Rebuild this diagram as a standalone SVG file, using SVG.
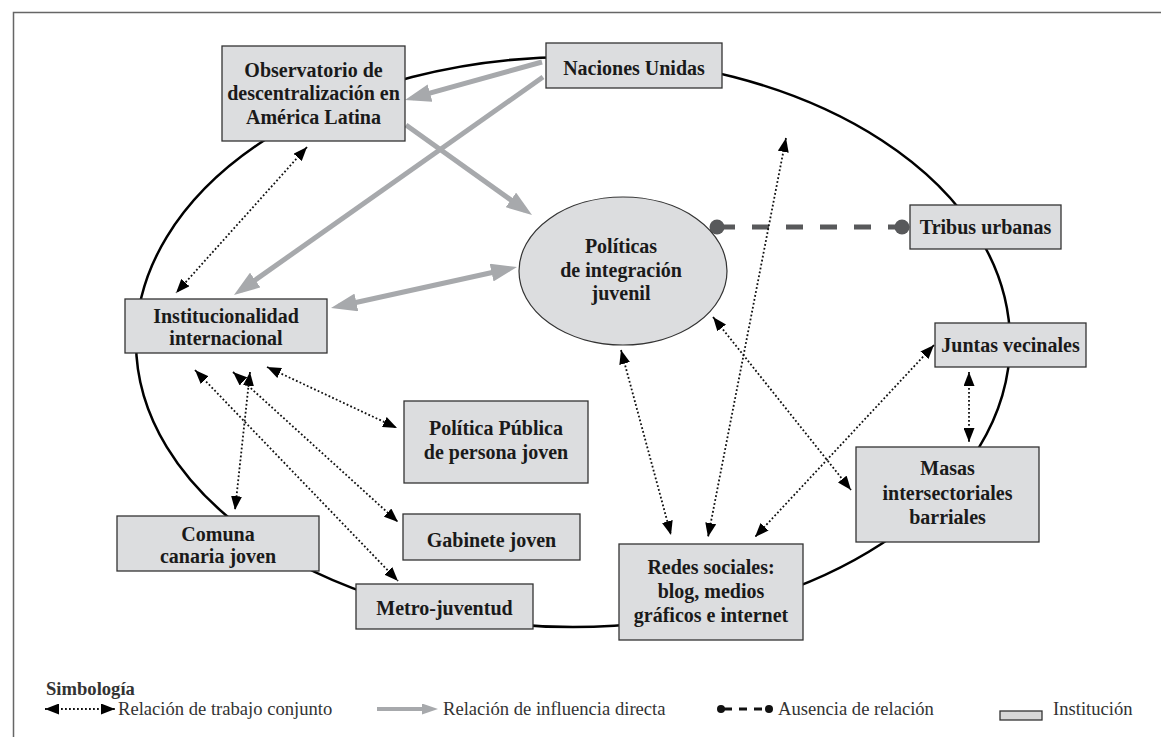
<svg xmlns="http://www.w3.org/2000/svg" width="1161" height="737" viewBox="0 0 1161 737">
<style>
.box{fill:#dcdddf;stroke:#333;stroke-width:1.3}
.lbl{font-family:'Liberation Serif','DejaVu Serif','Times New Roman',serif;font-weight:bold;font-size:20px;fill:#1a1a1a;text-anchor:middle}
.leg{font-family:'Liberation Serif','DejaVu Serif','Times New Roman',serif;font-size:18.6px;fill:#333}
.infl{stroke:#a7a9ac;stroke-width:5;fill:none}
.joint{stroke:#111;stroke-width:1.8;stroke-dasharray:1.8 2.2;fill:none}
</style>
<defs>
<marker id="ga" markerUnits="userSpaceOnUse" viewBox="0 0 26 18" markerWidth="26" markerHeight="18" refX="18" refY="9" orient="auto-start-reverse"><path d="M0,0 L26,9 L0,18 z" fill="#a7a9ac"/></marker>
<marker id="gs" markerUnits="userSpaceOnUse" viewBox="0 0 16 11" markerWidth="16" markerHeight="11" refX="10" refY="5.5" orient="auto"><path d="M0,0 L16,5.5 L0,11 z" fill="#a7a9ac"/></marker>
<marker id="ba" markerUnits="userSpaceOnUse" viewBox="0 0 14 11" markerWidth="14" markerHeight="11" refX="14" refY="5.5" orient="auto-start-reverse"><path d="M0,0 L14,5.5 L0,11 z" fill="#000"/></marker>
</defs>
<rect width="1161" height="737" fill="#fff"/>
<path d="M13.5,737 V12.5 H1161" fill="none" stroke="#666" stroke-width="1.5"/>
<ellipse cx="573" cy="342" rx="437" ry="285" fill="none" stroke="#000" stroke-width="2.5"/>

<g id="connectors">
<line class="infl" x1="542" y1="62" x2="412.7" y2="97.9" marker-end="url(#ga)"/>
<line class="infl" x1="543" y1="77" x2="240.5" y2="290.4" marker-end="url(#ga)"/>
<line class="infl" x1="406" y1="125" x2="525.5" y2="210.4" marker-end="url(#ga)"/>
<line class="infl" x1="338.8" y1="306.3" x2="509.2" y2="268.7" marker-start="url(#ga)" marker-end="url(#ga)"/>
<line x1="717" y1="227" x2="902" y2="227" stroke="#58595b" stroke-width="5" stroke-dasharray="17 17" stroke-dashoffset="-1"/>
<circle cx="717" cy="227" r="7.5" fill="#58595b"/>
<circle cx="902" cy="227" r="7.5" fill="#58595b"/>
<line class="joint" x1="307" y1="147" x2="176" y2="293" marker-start="url(#ba)" marker-end="url(#ba)"/>
<line class="joint" x1="250" y1="372" x2="235" y2="510" marker-start="url(#ba)" marker-end="url(#ba)"/>
<line class="joint" x1="267" y1="367" x2="397" y2="428" marker-start="url(#ba)" marker-end="url(#ba)"/>
<line class="joint" x1="233" y1="372" x2="398" y2="522" marker-start="url(#ba)" marker-end="url(#ba)"/>
<line class="joint" x1="195" y1="370" x2="398" y2="581" marker-start="url(#ba)" marker-end="url(#ba)"/>
<line class="joint" x1="621" y1="350" x2="671" y2="535" marker-start="url(#ba)" marker-end="url(#ba)"/>
<line class="joint" x1="786" y1="138" x2="708" y2="537" marker-start="url(#ba)" marker-end="url(#ba)"/>
<line class="joint" x1="713" y1="317" x2="851" y2="490" marker-start="url(#ba)" marker-end="url(#ba)"/>
<line class="joint" x1="934" y1="345" x2="755" y2="537" marker-start="url(#ba)" marker-end="url(#ba)"/>
<line class="joint" x1="969" y1="372" x2="969" y2="442" marker-start="url(#ba)" marker-end="url(#ba)"/>
</g>

<g id="observatorio"><rect class="box" x="222" y="46" width="183" height="95"/>
<text class="lbl" x="313.5" y="77">Observatorio de</text><text class="lbl" x="313.5" y="100">descentralización en</text><text class="lbl" x="313.5" y="124">América Latina</text></g>
<g id="naciones-unidas"><rect class="box" x="546" y="43" width="176" height="45"/>
<text class="lbl" x="634" y="75">Naciones Unidas</text></g>
<g id="tribus-urbanas"><rect class="box" x="910" y="205" width="151" height="44"/>
<text class="lbl" x="985.5" y="234">Tribus urbanas</text></g>
<g id="politicas"><ellipse cx="623" cy="271" rx="104" ry="74" fill="#dcdddf" stroke="#333" stroke-width="1.2"/>
<text class="lbl" x="621" y="253">Políticas</text><text class="lbl" x="621" y="277">de integración</text><text class="lbl" x="621" y="300">juvenil</text></g>
<g id="institucionalidad"><rect class="box" x="125" y="299" width="202" height="54"/>
<text class="lbl" x="226" y="323">Institucionalidad</text><text class="lbl" x="226" y="345">internacional</text></g>
<g id="juntas-vecinales"><rect class="box" x="935" y="323" width="151" height="44"/>
<text class="lbl" x="1010.5" y="352">Juntas vecinales</text></g>
<g id="masas"><rect class="box" x="856" y="447" width="183" height="95"/>
<text class="lbl" x="947.5" y="475">Masas</text><text class="lbl" x="947.5" y="500">intersectoriales</text><text class="lbl" x="947.5" y="524">barriales</text></g>
<g id="redes-sociales"><rect class="box" x="619" y="544" width="184" height="96"/>
<text class="lbl" x="711" y="574">Redes sociales:</text><text class="lbl" x="711" y="598">blog, medios</text><text class="lbl" x="711" y="622">gráficos e internet</text></g>
<g id="politica-publica"><rect class="box" x="404" y="401" width="184" height="82"/>
<text class="lbl" x="496" y="435">Política Pública</text><text class="lbl" x="496" y="459">de persona joven</text></g>
<g id="gabinete-joven"><rect class="box" x="403" y="514" width="177" height="46"/>
<text class="lbl" x="491.5" y="547">Gabinete joven</text></g>
<g id="comuna-canaria"><rect class="box" x="117" y="516" width="202" height="55"/>
<text class="lbl" x="218" y="541">Comuna</text><text class="lbl" x="218" y="563">canaria joven</text></g>
<g id="metro-juventud"><rect class="box" x="356" y="584" width="177" height="45"/>
<text class="lbl" x="444.5" y="615">Metro-juventud</text></g>

<g id="legend">
<text class="leg" x="46" y="695" font-weight="bold" fill="#1a1a1a">Simbología</text>
<line class="joint" x1="45" y1="709" x2="115" y2="709" marker-start="url(#ba)" marker-end="url(#ba)"/>
<text class="leg" x="118" y="715">Relación de trabajo conjunto</text>
<line x1="377" y1="709" x2="432" y2="709" stroke="#a7a9ac" stroke-width="4" marker-end="url(#gs)"/>
<text class="leg" x="443" y="715">Relación de influencia directa</text>
<line x1="722" y1="709" x2="768" y2="709" stroke="#111" stroke-width="3" stroke-dasharray="8 7" stroke-dashoffset="-2"/>
<circle cx="721" cy="709" r="4" fill="#111"/>
<circle cx="769" cy="709" r="4" fill="#111"/>
<text class="leg" x="778" y="715">Ausencia de relación</text>
<rect x="1000" y="711" width="42" height="9" fill="#d8d8d8" stroke="#333" stroke-width="1.3"/>
<text class="leg" x="1053" y="715">Institución</text>
</g>
</svg>
